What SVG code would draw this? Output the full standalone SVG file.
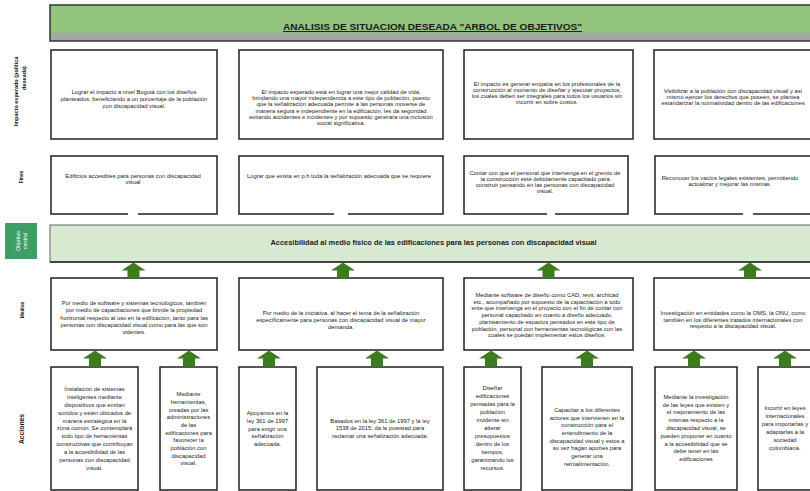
<svg xmlns="http://www.w3.org/2000/svg" xmlns:xlink="http://www.w3.org/1999/xlink" width="810" height="491" viewBox="0 0 810 491">
<style>
.bx{fill:#ffffff;stroke:#1f1f1f;stroke-width:1.5}
.t{font-family:"Liberation Sans",Arial,sans-serif;font-size:5.8px;fill:#222;text-anchor:middle}
.lbl{font-family:"Liberation Sans",Arial,sans-serif;font-weight:bold;fill:#111;text-anchor:middle}
.arr{fill:#3d7b1f}
.gap{stroke:#ffffff;stroke-width:2.5}
</style>
<defs>
<polygon id="arrow" points="0,0 12,8 6,8 6,16 -6,16 -6,8 -12,8"/>
</defs>
<rect x="0" y="0" width="810" height="491" fill="#ffffff"/>

<g id="title">
<rect x="50" y="5" width="770" height="28" fill="#93c47d"/>
<rect x="50" y="33" width="770" height="8" fill="#a6a6a6"/>
<rect x="50" y="5" width="770" height="36" fill="none" stroke="#333" stroke-width="1.5"/>
<text x="432.5" y="30" font-family="Liberation Sans, Arial, sans-serif" font-weight="bold" font-size="9.5" fill="#1a1a1a" text-anchor="middle" text-decoration="underline" textLength="299" lengthAdjust="spacingAndGlyphs">ANALISIS DE SITUACION DESEADA  "ARBOL DE OBJETIVOS"</text>
</g>

<g id="row-labels">
<text class="lbl" font-size="5.5" transform="translate(18,91.5) rotate(-90)">Impacto esperado (política</text>
<text class="lbl" font-size="5.5" transform="translate(25.5,78) rotate(-90)">deseada)</text>
<text class="lbl" font-size="4.8" transform="translate(22.5,177) rotate(-90)">Fines</text>
<text class="lbl" font-size="4.8" transform="translate(23.5,310) rotate(-90)">Medios</text>
<text class="lbl" font-size="6.8" transform="translate(23.5,429) rotate(-90)">Acciones</text>
</g>

<g id="objetivo-label">
<rect x="5" y="223" width="32" height="36" fill="#3f9e68"/>
<text font-family="Liberation Sans, Arial, sans-serif" font-size="5.5" fill="#ffffff" text-anchor="middle" transform="translate(19.5,241) rotate(-90)">Objetivo</text>
<text font-family="Liberation Sans, Arial, sans-serif" font-size="5.5" fill="#ffffff" text-anchor="middle" transform="translate(26.5,241) rotate(-90)">central</text>
</g>

<!-- Impacto esperado -->
<g id="impacto-1">
<rect class="bx" x="51" y="50" width="166" height="89"/>
<text class="t"><tspan x="134" y="94">Lograr el impacto a nivel Bogotá con los diseños</tspan><tspan x="134" y="101">planteados, beneficiando a un porcentaje de la población</tspan><tspan x="134" y="108">con discapacidad visual.</tspan></text>
</g>
<g id="impacto-2">
<rect class="bx" x="239" y="50" width="204" height="89"/>
<text class="t"><tspan x="341" y="93.7">El impacto esperado está en lograr una mejor calidad de vida,</tspan><tspan x="341" y="100">brindando una mayor independencia a este tipo de población, puesto</tspan><tspan x="341" y="106.3">que la señalización adecuada permite a las personas moverse de</tspan><tspan x="341" y="112.6">manera segura e independiente en la edificación, les da seguridad</tspan><tspan x="341" y="118.9">evitando accidentes e incidentes y por supuesto generara una inclusión</tspan><tspan x="341" y="125.3">social significativa.</tspan></text>
</g>
<g id="impacto-3">
<rect class="bx" x="464" y="50" width="169" height="89"/>
<text class="t"><tspan x="547" y="86">El impacto es generar empatía en los profesionales de la</tspan><tspan x="547" y="92">construcción al momento de diseñar y ejecutar proyectos,</tspan><tspan x="547" y="98">los cuales deben ser integrales para todos los usuarios sin</tspan><tspan x="547" y="104">incurrir en sobre costos.</tspan></text>
</g>
<g id="impacto-4">
<rect class="bx" x="654" y="50" width="170" height="89"/>
<text class="t"><tspan x="733" y="93">Visibilizar a la población con discapacidad visual y así</tspan><tspan x="733" y="99">mismo ejercer los derechos que poseen, se plantea</tspan><tspan x="733" y="105">estandarizar la normatividad dentro de las edificaciones</tspan></text>
</g>

<!-- Fines -->
<g id="fin-1">
<rect class="bx" x="51" y="156" width="166" height="58"/>
<line class="gap" x1="128" y1="214" x2="138" y2="214"/>
<text class="t"><tspan x="133" y="178">Edificios accesibles para personas con discapacidad</tspan><tspan x="133" y="184">visual</tspan></text>
</g>
<g id="fin-2">
<rect class="bx" x="239" y="156" width="204" height="58"/>
<line class="gap" x1="334" y1="214" x2="348" y2="214"/>
<text class="t"><tspan x="339" y="178">Lograr que exista en p.h toda la señalización adecuada que se requiere</tspan></text>
</g>
<g id="fin-3">
<rect class="bx" x="464" y="156" width="164" height="58"/>
<line class="gap" x1="547" y1="214" x2="555" y2="214"/>
<text class="t"><tspan x="545" y="175">Contar con que el personal que intervenga en el gremio de</tspan><tspan x="545" y="181">la construcción esté debidamente capacitado para</tspan><tspan x="545" y="187">construir pensando en las personas con discapacidad</tspan><tspan x="545" y="193">visual.</tspan></text>
</g>
<g id="fin-4">
<rect class="bx" x="655" y="156" width="170" height="58"/>
<line class="gap" x1="743" y1="214" x2="753" y2="214"/>
<text class="t"><tspan x="730" y="180">Reconocer los vacíos legales existentes, permitiendo</tspan><tspan x="730" y="186">actualizar y mejorar las mismas.</tspan></text>
</g>

<!-- Objetivo central -->
<g id="objetivo-central">
<rect x="50" y="225" width="770" height="37" fill="#d9ead3" stroke="#666" stroke-width="1"/>
<line x1="50" y1="262" x2="820" y2="262" stroke="#222" stroke-width="1.5"/>
<text x="433.5" y="245" font-family="Liberation Sans, Arial, sans-serif" font-weight="bold" font-size="7.5" fill="#1a1a1a" text-anchor="middle" textLength="326" lengthAdjust="spacingAndGlyphs">Accesibilidad al medio físico de las edificaciones para las personas con discapacidad visual</text>
</g>

<!-- Medios -->
<g id="medio-1">
<rect class="bx" x="51" y="278" width="166" height="72"/>
<text class="t"><tspan x="134" y="305">Por medio de software y sistemas tecnológicos, también</tspan><tspan x="134" y="312">por medio de capacitaciones que brinde la propiedad</tspan><tspan x="134" y="319.5">horizontal respecto al uso en la edificación, tanto para las</tspan><tspan x="134" y="327">personas con discapacidad visual como para las que son</tspan><tspan x="134" y="334.3">videntes.</tspan></text>
</g>
<g id="medio-2">
<rect class="bx" x="239" y="278" width="204" height="72"/>
<text class="t"><tspan x="341" y="315">Por medio de la iniciativa, al hacer el tema de la señalización</tspan><tspan x="341" y="322">específicamente para personas con discapacidad visual de mayor</tspan><tspan x="341" y="329">demanda.</tspan></text>
</g>
<g id="medio-3">
<rect class="bx" x="464" y="278" width="169" height="72"/>
<text class="t"><tspan x="547" y="297">Mediante software de diseño como CAD, revit, archicad</tspan><tspan x="547" y="303.7">etc., acompañado por supuesto de la capacitación a todo</tspan><tspan x="547" y="310.4">ente que intervenga en el proyecto con el fin de contar con</tspan><tspan x="547" y="317.1">personal capacitado en cuanto a diseño adecuado,</tspan><tspan x="547" y="323.8">planteamiento de espacios pensados en este tipo de</tspan><tspan x="547" y="330.5">población, personal con herramientas tecnológicas con las</tspan><tspan x="547" y="337.2">cuales se puedan implementar estos diseños.</tspan></text>
</g>
<g id="medio-4">
<rect class="bx" x="654" y="278" width="170" height="72"/>
<text class="t"><tspan x="733" y="315">Investigación en entidades como la OMS, la ONU, como</tspan><tspan x="733" y="321.5">también en los diferentes tratados internacionales con</tspan><tspan x="733" y="328">respecto a la discapacidad visual.</tspan></text>
</g>

<!-- Acciones -->
<g id="accion-1">
<rect class="bx" x="51" y="367" width="87" height="123"/>
<text class="t"><tspan x="94.5" y="391">Instalación de sistemas</tspan><tspan x="94.5" y="398.9">inteligentes mediante</tspan><tspan x="94.5" y="406.7">dispositivos que emitan</tspan><tspan x="94.5" y="414.6">sonidos y estén ubicados de</tspan><tspan x="94.5" y="422.5">manera estratégica en la</tspan><tspan x="94.5" y="430.3">zona común. Se contemplará</tspan><tspan x="94.5" y="438.2">todo tipo de herramientas</tspan><tspan x="94.5" y="446.1">constructivas que contribuyan</tspan><tspan x="94.5" y="454">a la accesibilidad de las</tspan><tspan x="94.5" y="461.8">personas con discapacidad</tspan><tspan x="94.5" y="469.7">visual.</tspan></text>
</g>
<g id="accion-2">
<rect class="bx" x="160" y="367" width="57" height="123"/>
<text class="t"><tspan x="188.5" y="396.3">Mediante</tspan><tspan x="188.5" y="404">herramientas,</tspan><tspan x="188.5" y="411.6">creadas por las</tspan><tspan x="188.5" y="419.3">administraciones</tspan><tspan x="188.5" y="427">de las</tspan><tspan x="188.5" y="434.6">edificaciones para</tspan><tspan x="188.5" y="442.3">favorecer la</tspan><tspan x="188.5" y="450">población con</tspan><tspan x="188.5" y="457.6">discapacidad</tspan><tspan x="188.5" y="465.3">visual.</tspan></text>
</g>
<g id="accion-3">
<rect class="bx" x="239" y="367" width="57" height="123"/>
<text class="t"><tspan x="267.5" y="415.3">Apoyamos en la</tspan><tspan x="267.5" y="423">ley 361 de 1997</tspan><tspan x="267.5" y="430.7">para exigir una</tspan><tspan x="267.5" y="438.4">señalización</tspan><tspan x="267.5" y="446">adecuada.</tspan></text>
</g>
<g id="accion-4">
<rect class="bx" x="317" y="367" width="126" height="123"/>
<text class="t"><tspan x="380" y="423">Basados en la ley 361 de 1997 y la ley</tspan><tspan x="380" y="430.3">1538 de 2015, da la potestad para</tspan><tspan x="380" y="437.7">reclamar una señalización adecuada.</tspan></text>
</g>
<g id="accion-5">
<rect class="bx" x="464" y="367" width="57" height="123"/>
<text class="t"><tspan x="492.5" y="390.3">Diseñar</tspan><tspan x="492.5" y="398.2">edificaciones</tspan><tspan x="492.5" y="406.2">pensadas para la</tspan><tspan x="492.5" y="414.1">población</tspan><tspan x="492.5" y="422">invidente sin</tspan><tspan x="492.5" y="430">alterar</tspan><tspan x="492.5" y="437.9">presupuestos</tspan><tspan x="492.5" y="445.8">dentro de los</tspan><tspan x="492.5" y="453.7">tiempos,</tspan><tspan x="492.5" y="461.7">garantizando los</tspan><tspan x="492.5" y="469.6">recursos.</tspan></text>
</g>
<g id="accion-6">
<rect class="bx" x="542" y="367" width="90" height="123"/>
<text class="t"><tspan x="587" y="412">Capacitar a los diferentes</tspan><tspan x="587" y="419.7">actores que intervienen en la</tspan><tspan x="587" y="427.3">construcción para el</tspan><tspan x="587" y="435">entendimiento de la</tspan><tspan x="587" y="442.7">discapacidad visual y estos a</tspan><tspan x="587" y="450.3">su vez hagan aportes para</tspan><tspan x="587" y="458">generar una</tspan><tspan x="587" y="465.7">retroalimentación.</tspan></text>
</g>
<g id="accion-7">
<rect class="bx" x="655" y="367" width="82" height="123"/>
<text class="t"><tspan x="696" y="398.7">Mediante la investigación</tspan><tspan x="696" y="406.5">de las leyes que existen y</tspan><tspan x="696" y="414.3">el mejoramiento de las</tspan><tspan x="696" y="422.1">mismas respecto a la</tspan><tspan x="696" y="429.9">discapacidad visual, se</tspan><tspan x="696" y="437.7">pueden proponer en cuanto</tspan><tspan x="696" y="445.5">a la accesibilidad que se</tspan><tspan x="696" y="453.3">debe tener en las</tspan><tspan x="696" y="461.1">edificaciones</tspan></text>
</g>
<g id="accion-8">
<rect class="bx" x="758" y="367" width="66" height="123"/>
<text class="t"><tspan x="785" y="410.3">Incurrir en leyes</tspan><tspan x="785" y="418.3">internacionales</tspan><tspan x="785" y="426.3">para importarlas y</tspan><tspan x="785" y="434.3">adaptarlas a la</tspan><tspan x="785" y="442.3">sociedad</tspan><tspan x="785" y="450.3">colombiana.</tspan></text>
</g>

<g id="connectors" class="arr">
<use xlink:href="#arrow" href="#arrow" x="133.5" y="262.5"/>
<use xlink:href="#arrow" href="#arrow" x="343" y="262.5"/>
<use xlink:href="#arrow" href="#arrow" x="548.5" y="262.5"/>
<use xlink:href="#arrow" href="#arrow" x="750" y="262.5"/>
<use xlink:href="#arrow" href="#arrow" x="95" y="350.5" transform="translate(0,0)"/>
<use xlink:href="#arrow" href="#arrow" x="189" y="350.5"/>
<use xlink:href="#arrow" href="#arrow" x="269" y="350.5"/>
<use xlink:href="#arrow" href="#arrow" x="377" y="350.5"/>
<use xlink:href="#arrow" href="#arrow" x="491" y="350.5"/>
<use xlink:href="#arrow" href="#arrow" x="587" y="350.5"/>
<use xlink:href="#arrow" href="#arrow" x="694" y="350.5"/>
<use xlink:href="#arrow" href="#arrow" x="785" y="350.5"/>
</g>
</svg>
